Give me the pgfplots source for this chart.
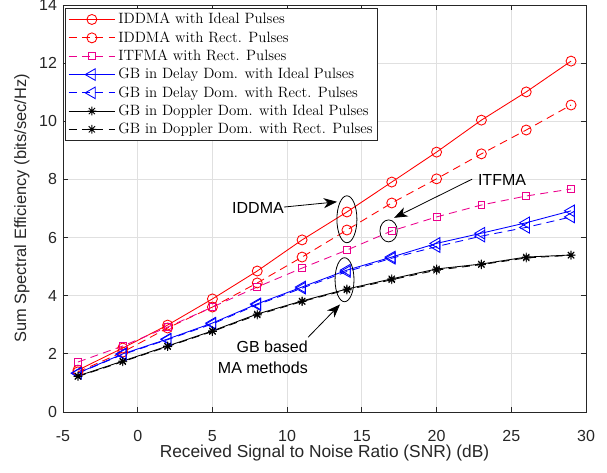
\documentclass[border=0pt]{standalone}
\usepackage{pgfplots}
\pgfplotsset{compat=1.18}
\usepackage{fontspec}
\setsansfont{Liberation Sans}
\usetikzlibrary{arrows.meta}
\definecolor{axgray}{gray}{0.15}
\definecolor{gridgray}{gray}{0.88}
\pgfdeclareplotmark{star8}{%
  \pgfpathmoveto{\pgfpoint{-\pgfplotmarksize}{0pt}}\pgfpathlineto{\pgfpoint{\pgfplotmarksize}{0pt}}%
  \pgfpathmoveto{\pgfpoint{0pt}{-\pgfplotmarksize}}\pgfpathlineto{\pgfpoint{0pt}{\pgfplotmarksize}}%
  \pgfpathmoveto{\pgfpoint{-0.707\pgfplotmarksize}{-0.707\pgfplotmarksize}}\pgfpathlineto{\pgfpoint{0.707\pgfplotmarksize}{0.707\pgfplotmarksize}}%
  \pgfpathmoveto{\pgfpoint{-0.707\pgfplotmarksize}{0.707\pgfplotmarksize}}\pgfpathlineto{\pgfpoint{0.707\pgfplotmarksize}{-0.707\pgfplotmarksize}}%
  \pgfusepathqstroke}
\begin{document}
\begin{tikzpicture}
\begin{axis}[
  scale only axis, width=392.25pt, height=305.25pt, at={(0,0)}, anchor=south west,
  xmin=-5, xmax=30, ymin=0, ymax=14,
  xtick={-5,0,...,30}, ytick={0,2,...,14},
  grid=major, major grid style={gridgray, line width=0.6pt},
  axis line style={axgray, line width=0.7pt},
  tick style={axgray, line width=0.7pt},
  tick align=inside, major tick length=3.75pt,
  /pgf/number format/assume math mode=true,
  tick label style={font=\sffamily\fontsize{12}{14}\selectfont, text=axgray},
  xticklabel shift=10.5pt, yticklabel shift=1pt,
  every axis x label/.style={at={(axis description cs:0.5,0)}, anchor=center, yshift=-31pt, font=\sffamily\fontsize{13}{15}\selectfont, text=axgray},
  every axis y label/.style={at={(axis description cs:0,0.5)}, xshift=-30.75pt, rotate=90, anchor=center, font=\sffamily\fontsize{12.3}{15}\selectfont, text=axgray},
  xlabel={Received Signal to Noise Ratio (SNR) (dB)},
  ylabel={Sum Spectral Efficiency (bits/sec/Hz)},
  legend cell align=left,
  legend style={at={(axis description cs:0,1)}, anchor=north west, xshift=1.5pt, yshift=-2.25pt,
    font=\fontsize{11.2}{13}\selectfont, draw=axgray, line width=0.7pt, fill=white,
    inner xsep=2pt, inner ysep=1.5pt, row sep=0.3pt},
  legend image code/.code={\draw[mark repeat=2,mark phase=2] plot coordinates {(0pt,0pt) (17.5pt,0pt) (35pt,0pt)};},
  every axis plot/.append style={line width=0.65pt},
]
\addplot[red, mark=o, mark size=3.75pt] coordinates {
(-4,1.44) (-1,2.20) (2,2.99) (5,3.89) (8,4.85) (11,5.92) (14,6.88) (17,7.91) (20,8.94) (23,10.04) (26,11.01) (29,12.07)};
\addlegendentry{IDDMA with Ideal Pulses}
\addplot[red, dash pattern=on 6pt off 4pt, mark=o, mark size=3.75pt, mark options={solid}] coordinates {
(-4,1.38) (-1,2.06) (2,2.89) (5,3.61) (8,4.44) (11,5.33) (14,6.26) (17,7.19) (20,8.02) (23,8.88) (26,9.70) (29,10.56)};
\addlegendentry{IDDMA with Rect. Pulses}
\addplot[magenta, dash pattern=on 6pt off 4pt, mark=square, mark size=2.6pt, mark options={solid}] coordinates {
(-4,1.72) (-1,2.27) (2,2.92) (5,3.61) (8,4.30) (11,4.95) (14,5.57) (17,6.23) (20,6.71) (23,7.12) (26,7.43) (29,7.67)};
\addlegendentry{ITFMA with Rect. Pulses}
\addplot[blue, mark=triangle, mark size=5pt, mark options={rotate=90}] coordinates {
(-4,1.34) (-1,2.00) (2,2.51) (5,3.06) (8,3.72) (11,4.30) (14,4.88) (17,5.33) (20,5.80) (23,6.15) (26,6.51) (29,6.92)};
\addlegendentry{GB in Delay Dom. with Ideal Pulses}
\addplot[blue, dash pattern=on 6pt off 4pt, mark=triangle, mark size=5pt, mark options={rotate=90, solid}] coordinates {
(-4,1.33) (-1,1.98) (2,2.49) (5,3.03) (8,3.69) (11,4.26) (14,4.83) (17,5.29) (20,5.69) (23,6.05) (26,6.35) (29,6.71)};
\addlegendentry{GB in Delay Dom. with Rect. Pulses}
\addplot[black, mark=star8, mark size=3.3pt] coordinates {
(-4,1.24) (-1,1.75) (2,2.27) (5,2.79) (8,3.37) (11,3.82) (14,4.23) (17,4.58) (20,4.92) (23,5.09) (26,5.33) (29,5.40)};
\addlegendentry{GB in Doppler Dom. with Ideal Pulses}
\addplot[black, dash pattern=on 6pt off 4pt, mark=star8, mark size=3.3pt, mark options={solid}] coordinates {
(-4,1.22) (-1,1.73) (2,2.25) (5,2.77) (8,3.34) (11,3.80) (14,4.20) (17,4.55) (20,4.88) (23,5.07) (26,5.30) (29,5.39)};
\addlegendentry{GB in Doppler Dom. with Rect. Pulses}
% annotations
\draw[black, line width=0.6pt] (axis cs:14,6.63) ellipse [x radius=7.5pt, y radius=17.6pt];
\draw[black, line width=0.6pt] (axis cs:16.79,6.23) ellipse [x radius=6.5pt, y radius=8.25pt];
\draw[black, line width=0.6pt] (axis cs:13.84,4.55) ellipse [x radius=7.1pt, y radius=16.5pt];
\node[font=\sffamily\fontsize{12}{14}\selectfont, anchor=center] at (axis cs:8.05,7.02) {IDDMA};
\draw[line width=0.6pt, -{Stealth[length=10pt,width=7.5pt,inset=3pt]}] (axis cs:9.79,7.05) -- (axis cs:13.34,7.23);
\node[font=\sffamily\fontsize{12}{14}\selectfont, anchor=center] at (axis cs:24.38,7.98) {ITFMA};
\draw[line width=0.6pt, -{Stealth[length=10pt,width=7.5pt,inset=3pt]}] (axis cs:22.38,8.01) -- (axis cs:17.16,6.68);
\node[font=\sffamily\fontsize{12}{14}\selectfont, anchor=east, align=right, inner sep=0pt] at (axis cs:11.40,1.88) {GB based\\[1.5pt]MA methods};
\draw[line width=0.6pt, -{Stealth[length=10pt,width=7.5pt,inset=3pt]}] (axis cs:11.40,2.57) -- (axis cs:13.54,3.70);
\end{axis}
\pgfresetboundingbox
\useasboundingbox (-47.25pt,-45pt) rectangle (408pt,309pt);
\end{tikzpicture}
\end{document}
